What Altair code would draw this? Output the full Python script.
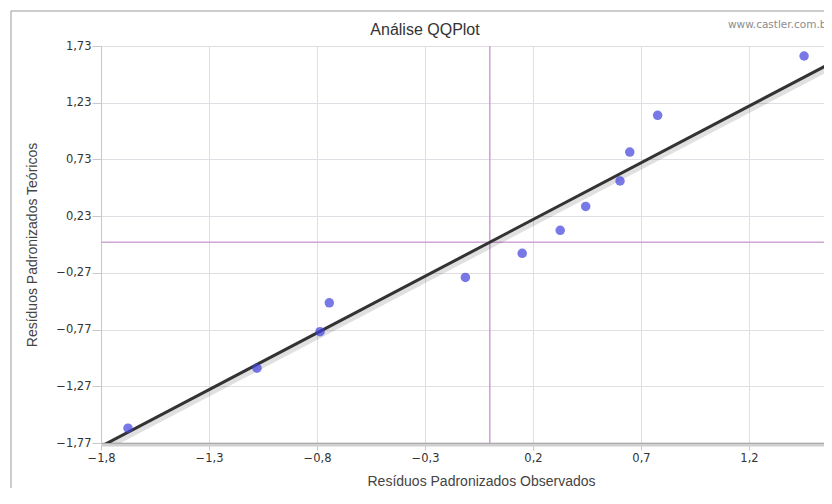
import altair as alt
import pandas as pd

# Data
observados = [-1.675, -1.078, -0.786, -0.743, -0.113, 0.150, 0.326, 0.444, 0.603, 0.648, 0.777, 1.455]
teoricos = [-1.639, -1.110, -0.789, -0.534, -0.310, -0.098, 0.105, 0.316, 0.540, 0.795, 1.119, 1.642]
linha_x = [-1.8, 1.575]
linha_y = [-1.8, 1.575]
x_ticks = [-1.8, -1.3, -0.8, -0.3, 0.2, 0.7, 1.2]
y_ticks = [-1.77, -1.27, -0.77, -0.27, 0.23, 0.73, 1.23, 1.73]
x_domain = [-1.8, 1.575]
y_domain = [-1.77, 1.73]
cruz_x = [0]
cruz_y = [0]

W, H = 729, 397

pts = pd.DataFrame({"x": observados, "y": teoricos})
lin = pd.DataFrame({"x": linha_x, "y": linha_y})
vx = pd.DataFrame({"x": cruz_x})
hy = pd.DataFrame({"y": cruz_y})
one = pd.DataFrame({"k": [0]})

xscale = alt.Scale(domain=x_domain, nice=False, zero=False)
yscale = alt.Scale(domain=y_domain, nice=False, zero=False)

label_font = "DejaVu Sans"
title_font = "Liberation Sans"

xaxis = alt.Axis(
    values=x_ticks,
    labelExpr="replace(format(datum.value, '.1f'), '.', ',')",
    title="Resíduos Padronizados Observados",
    grid=True, gridColor="#e2dce5", gridWidth=1,
    domainColor="#8a8a8a", domainWidth=1.5,
    tickColor="#c8c8c8", tickSize=7,
    labelFont=label_font, labelFontSize=11.5, labelColor="#333", labelPadding=2,
    labelFlush=False, labelOverlap=False,
    titleFont=title_font, titleFontSize=14, titleFontWeight="normal", titleColor="#444",
    titlePadding=11, titleX=380,
)
yaxis = alt.Axis(
    values=y_ticks,
    labelExpr="replace(format(datum.value, '.2f'), '.', ',')",
    title="Resíduos Padronizados Teóricos",
    grid=True, gridColor="#e2dce5", gridWidth=1,
    domainColor="#c8c8c8", domainWidth=1,
    tickColor="#c8c8c8", tickSize=9,
    labelFont=label_font, labelFontSize=11.5, labelColor="#333", labelPadding=1,
    labelFlush=False, labelOverlap=False,
    titleFont=title_font, titleFontSize=14, titleFontWeight="normal", titleColor="#444",
    titlePadding=16,
)

pontos = alt.Chart(pts).mark_circle(size=90, color="#3e3edb", opacity=0.7).encode(
    x=alt.X("x:Q", scale=xscale, axis=xaxis),
    y=alt.Y("y:Q", scale=yscale, axis=yaxis),
)

vline = alt.Chart(vx).mark_rule(color="#cfa6d6", strokeWidth=1.6).encode(
    x=alt.X("x:Q", scale=xscale)
)
hline = alt.Chart(hy).mark_rule(color="#cfa6d6", strokeWidth=1.6).encode(
    y=alt.Y("y:Q", scale=yscale)
)

sombra = alt.Chart(lin).mark_line(clip=True, color="#000000", opacity=0.12,
                                  strokeWidth=6, xOffset=1, yOffset=3).encode(
    x=alt.X("x:Q", scale=xscale), y=alt.Y("y:Q", scale=yscale)
)
linha = alt.Chart(lin).mark_line(clip=True, color="#333333", strokeWidth=3).encode(
    x=alt.X("x:Q", scale=xscale), y=alt.Y("y:Q", scale=yscale)
)

sombra_base = alt.Chart(one).mark_rule(color="#d0d0d0", strokeWidth=3).encode(
    x=alt.value(0), x2=alt.value(W + 2), y=alt.value(H + 2)
)
sombra_dir = alt.Chart(one).mark_rule(color="#e0e0e0", strokeWidth=2).encode(
    x=alt.value(W + 1), y=alt.value(0), y2=alt.value(H + 2)
)

moldura = alt.Chart(one).mark_rect(fillOpacity=0, stroke="#9a9a9a", strokeWidth=1).encode(
    x=alt.value(-90), x2=alt.value(W + 80), y=alt.value(-35), y2=alt.value(H + 150)
)

marca = alt.Chart(one).mark_text(
    text="www.castler.com.br", align="left", baseline="middle",
    font=label_font, fontSize=10.5, color="#8c8c8c"
).encode(x=alt.value(627), y=alt.value(-21))

titulo = alt.Chart(one).mark_text(
    text="Análise QQPlot", align="center", baseline="middle",
    font=title_font, fontSize=16, color="#333333"
).encode(x=alt.value(324), y=alt.value(-16))

chart = alt.layer(
    vline, hline, sombra_base, sombra_dir, sombra, linha, pontos, moldura, marca, titulo
).properties(
    width=W, height=H,
    autosize=alt.AutoSizeParams(type="none"),
    padding={"left": 93, "top": 38, "right": -6, "bottom": 45},
).configure_view(stroke="#c8c8c8").configure(background="white")

chart.save("out.html", embed_options={"renderer": "svg", "actions": False})
